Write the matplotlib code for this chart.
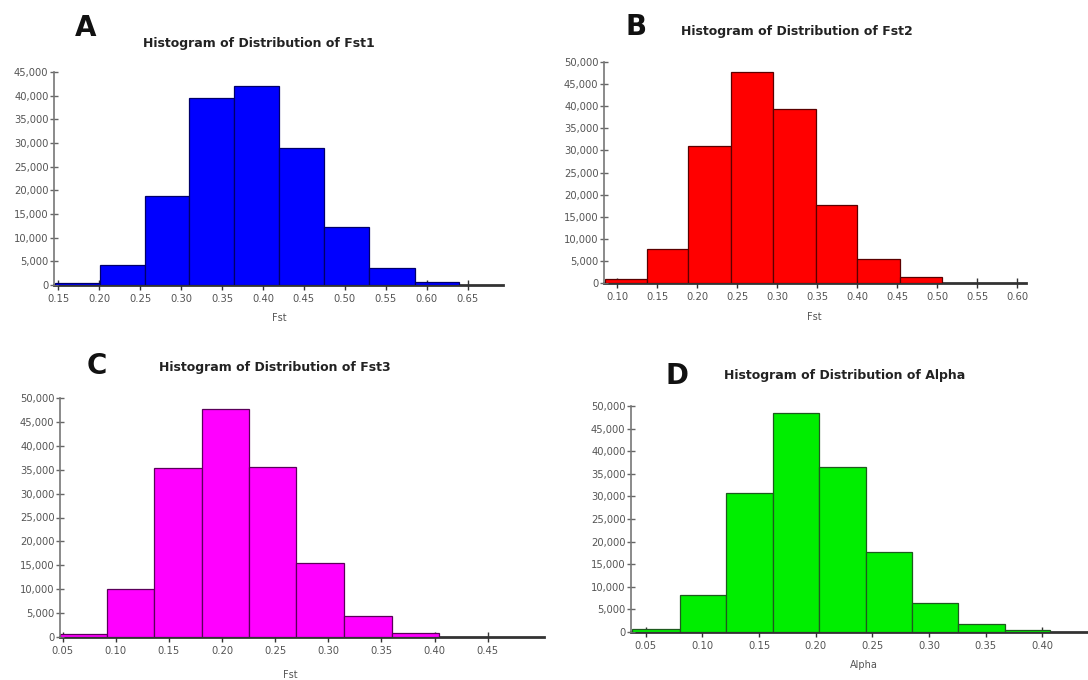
import numpy as np
import matplotlib.pyplot as plt
from matplotlib.ticker import FuncFormatter

# --- histogram data (bin edges + counts) ---
edges_fst1 = [0.146, 0.201, 0.256, 0.310, 0.365, 0.420, 0.475, 0.530, 0.585, 0.639]
counts_fst1 = [500, 4200, 18900, 39500, 42000, 29000, 12300, 3600, 700]

edges_fst2 = [0.085, 0.137, 0.189, 0.242, 0.295, 0.348, 0.400, 0.453, 0.506]
counts_fst2 = [800, 7800, 31100, 47800, 39300, 17600, 5500, 1300]

edges_fst3 = [0.0475, 0.092, 0.136, 0.181, 0.225, 0.270, 0.315, 0.360, 0.404]
counts_fst3 = [600, 10100, 35300, 47600, 35500, 15400, 4300, 800]

edges_alpha = [0.038, 0.080, 0.121, 0.162, 0.203, 0.244, 0.285, 0.326, 0.367, 0.407]
counts_alpha = [700, 8200, 30700, 48500, 36500, 17800, 6400, 1800, 400]

W, H = 1088, 680
fig = plt.figure(figsize=(W / 100, H / 100), dpi=100)


def px_axes(left, right, top, bottom):
    return fig.add_axes([left / W, 1 - bottom / H, (right - left) / W, (bottom - top) / H])


def draw_hist(ax, edges, counts, face, edge, xlim, ymax, xticks):
    edges = np.array(edges)
    ax.bar(edges[:-1], counts, width=np.diff(edges), align='edge',
           color=face, edgecolor=edge, linewidth=0.9, zorder=2)
    ax.set_xlim(*xlim)
    ax.set_ylim(0, ymax)
    ax.set_xticks(xticks)
    ax.set_xticklabels([f'{t:.2f}' for t in xticks])
    ax.set_yticks(np.arange(0, ymax + 1, 5000))
    ax.yaxis.set_major_formatter(FuncFormatter(lambda v, p: f'{int(v):,}'))
    for s in ['top', 'right']:
        ax.spines[s].set_visible(False)
    ax.spines['left'].set_color('#777777')
    ax.spines['left'].set_linewidth(1.2)
    ax.spines['bottom'].set_color('#333333')
    ax.spines['bottom'].set_linewidth(2.0)
    ax.spines['bottom'].set_zorder(1)
    ax.tick_params(axis='y', direction='inout', length=6, width=1, color='#666666',
                   labelsize=7.2, labelcolor='#555555', pad=1)
    ax.tick_params(axis='x', direction='inout', length=7, width=1, color='#333333',
                   labelsize=7.2, labelcolor='#555555', pad=3)
    ax.set_facecolor('none')


axA = px_axes(54, 503, 72, 285)
draw_hist(axA, edges_fst1, counts_fst1, '#0000ff', '#00006a', (0.145, 0.693), 45000,
          np.arange(0.15, 0.651, 0.05))
axB = px_axes(604, 1026, 62, 283)
draw_hist(axB, edges_fst2, counts_fst2, '#ff0000', '#5a0000', (0.0834, 0.611), 50000,
          np.arange(0.10, 0.601, 0.05))
axC = px_axes(60, 544, 398, 637)
draw_hist(axC, edges_fst3, counts_fst3, '#ff00ff', '#5a005a', (0.0475, 0.503), 50000,
          np.arange(0.05, 0.451, 0.05))
axD = px_axes(631, 1088, 406, 632)
draw_hist(axD, edges_alpha, counts_alpha, '#00ee00', '#1e5a1e', (0.037, 0.4404), 50000,
          np.arange(0.05, 0.401, 0.05))


def ftext(x, y, s, **kw):
    fig.text(x / W, 1 - y / H, s, ha='center', va='center', **kw)


# panel letters
for x, y, s in [(86, 28, 'A'), (636, 27, 'B'), (97, 366, 'C'), (677, 376, 'D')]:
    ftext(x, y, s, fontsize=20, fontweight='bold', color='#111111')

# titles
for x, y, s in [(259, 43, 'Histogram of Distribution of Fst1'),
                (797, 31, 'Histogram of Distribution of Fst2'),
                (275, 367, 'Histogram of Distribution of Fst3'),
                (845, 376, 'Histogram of Distribution of Alpha')]:
    ftext(x, y, s, fontsize=9, fontweight='bold', color='#222222')

# x labels
for x, y, s in [(279, 318, 'Fst'), (814, 317, 'Fst'), (290, 675, 'Fst'), (864, 665, 'Alpha')]:
    ftext(x, y, s, fontsize=7, color='#555555')

fig.savefig('out.png', dpi=100)
